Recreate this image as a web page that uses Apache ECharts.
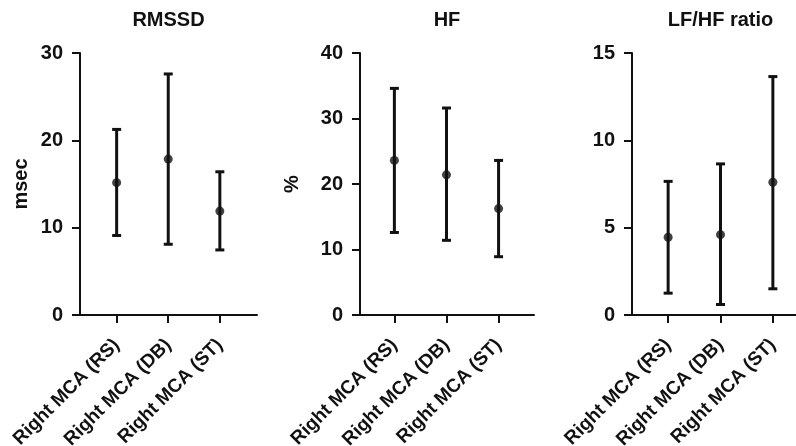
<!DOCTYPE html>
<html>
<head>
<meta charset="utf-8">
<script src="https://cdn.jsdelivr.net/npm/echarts@6/dist/echarts.min.js"></script>
<style>
html,body{margin:0;padding:0;background:#fff;}
#chart{width:796px;height:446px;}
</style>
</head>
<body>
<div id="chart"></div>
<script>
// ---- data ----
const categories = ['Right MCA (RS)', 'Right MCA (DB)', 'Right MCA (ST)'];
const panelTitles = ['RMSSD', 'HF', 'LF/HF ratio'];
const yNames = ['msec', '%', ''];
const yMax = [30, 40, 15];
const yInterval = [10, 10, 5];

const rmssdMean = [15.15, 17.85, 11.9];
const rmssdLow  = [9.1, 8.1, 7.45];
const rmssdHigh = [21.25, 27.6, 16.4];

const hfMean = [23.6, 21.4, 16.25];
const hfLow  = [12.6, 11.4, 8.9];
const hfHigh = [34.6, 31.6, 23.6];

const lfhfMean = [4.45, 4.6, 7.6];
const lfhfLow  = [1.25, 0.6, 1.5];
const lfhfHigh = [7.65, 8.65, 13.65];

const means = [rmssdMean, hfMean, lfhfMean];
const lows = [rmssdLow, hfLow, lfhfLow];
const highs = [rmssdHigh, hfHigh, lfhfHigh];

// ---- layout ----
const FONT = '"Liberation Sans", Arial, sans-serif';
const TXT = '#111';
const FS = 20;
const grids = [
  {left: 80, top: 53, width: 177, height: 262, xmin: -0.71, xmax: 2.72, nameGap: 49},
  {left: 360, top: 53, width: 174, height: 262, xmin: -0.66, xmax: 2.68, nameGap: 58},
  {left: 632, top: 53, width: 177, height: 262, xmin: -0.69, xmax: 2.69, nameGap: 50}
];

const option = {
  animation: false,
  backgroundColor: '#fff',
  title: [], grid: [], xAxis: [], yAxis: [], series: []
};

grids.forEach((g, i) => {
  option.title.push({
    text: panelTitles[i],
    left: g.left + g.width / 2,
    top: 10,
    textAlign: 'center',
    padding: 0,
    textStyle: {fontFamily: FONT, fontSize: FS, fontWeight: 'bold', color: TXT}
  });
  option.grid.push({left: g.left, top: g.top, width: g.width, height: g.height,
    containLabel: false, outerBoundsMode: 'none'});
  option.xAxis.push({
    type: 'value', gridIndex: i, min: g.xmin, max: g.xmax,
    splitLine: {show: false},
    axisLine: {show: true, onZero: false, lineStyle: {color: TXT, width: 2}},
    axisTick: {show: true, customValues: [0, 1, 2], length: 8, lineStyle: {color: TXT, width: 2}},
    axisLabel: {
      show: true, customValues: [0, 1, 2], rotate: 45, margin: 27,
      formatter: v => categories[Math.round(v)] || '',
      fontFamily: FONT, fontSize: 19, fontWeight: 'bold', color: TXT
    }
  });
  option.yAxis.push({
    type: 'value', gridIndex: i, min: 0, max: yMax[i], interval: yInterval[i],
    name: yNames[i], nameLocation: 'middle', nameGap: g.nameGap, nameRotate: 90,
    nameTextStyle: {fontFamily: FONT, fontSize: FS, fontWeight: 'bold', color: TXT},
    splitLine: {show: false},
    axisLine: {show: true, onZero: false, lineStyle: {color: TXT, width: 2}},
    axisTick: {show: true, length: 8, lineStyle: {color: TXT, width: 2}},
    axisLabel: {margin: 17, fontFamily: FONT, fontSize: FS, fontWeight: 'bold', color: TXT}
  });
  const errData = categories.map((c, k) => [k, lows[i][k], highs[i][k]]);
  option.series.push({
    type: 'custom', xAxisIndex: i, yAxisIndex: i,
    data: errData,
    encode: {x: 0, y: [1, 2]},
    renderItem: function (params, api) {
      const x = api.value(0);
      const lo = api.coord([x, api.value(1)]);
      const hi = api.coord([x, api.value(2)]);
      const hw = 4.5;
      const st = {stroke: '#111', lineWidth: 3, fill: null};
      return {
        type: 'group',
        children: [
          {type: 'line', shape: {x1: lo[0], y1: lo[1], x2: hi[0], y2: hi[1]}, style: st},
          {type: 'line', shape: {x1: hi[0] - hw, y1: hi[1], x2: hi[0] + hw, y2: hi[1]}, style: st},
          {type: 'line', shape: {x1: lo[0] - hw, y1: lo[1], x2: lo[0] + hw, y2: lo[1]}, style: st}
        ]
      };
    },
    z: 2
  });
  option.series.push({
    type: 'scatter', xAxisIndex: i, yAxisIndex: i,
    data: categories.map((c, k) => [k, means[i][k]]),
    symbol: 'circle', symbolSize: 9,
    itemStyle: {color: '#111'},
    z: 3
  });
});

const chart = echarts.init(document.getElementById('chart'), null, {renderer: 'canvas'});
chart.setOption(option);
</script>
</body>
</html>
